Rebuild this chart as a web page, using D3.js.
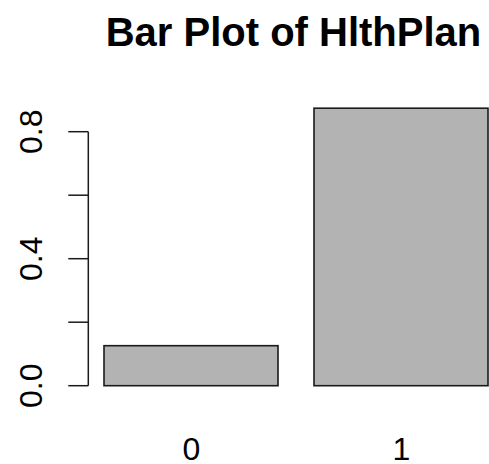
<!DOCTYPE html>
<html>
<head>
<meta charset="utf-8">
<script src="https://cdn.jsdelivr.net/npm/d3@7"></script>
<style>
  html, body { margin: 0; padding: 0; background: #fff; }
  svg { display: block; }
  text { font-family: "Liberation Sans", Arial, Helvetica, sans-serif; fill: #000; }
</style>
</head>
<body>
<svg id="chart" width="489" height="464"></svg>
<script>
// Proportions of HlthPlan
const categories = ["0", "1"];
const values = [0.126, 0.874];
const tickValues = [0, 0.2, 0.4, 0.6, 0.8];
const tickLabels = ["0.0", "", "0.4", "", "0.8"];
const title = "Bar Plot of HlthPlan";

const svg = d3.select("#chart");

// barplot units: width 1, space 0.2
const barWidth = 1, space = 0.2;
const x = d3.scaleLinear().domain([0.2, 2.4]).range([104, 489]);
const y = d3.scaleLinear().domain([0, 0.8]).range([385.7, 131.7]);

const bars = categories.map((c, i) => ({
  cat: c,
  value: values[i],
  left: space + i * (barWidth + space)
}));

svg.append("g").selectAll("rect")
  .data(bars)
  .join("rect")
  .attr("x", d => x(d.left))
  .attr("y", d => y(d.value))
  .attr("width", d => x(d.left + barWidth) - x(d.left) - 1)
  .attr("height", d => y(0) - y(d.value))
  .attr("fill", "#b3b3b3")
  .attr("stroke", "#1a1a1a")
  .attr("stroke-width", 1.6);

// category labels
svg.append("g").selectAll("text")
  .data(bars)
  .join("text")
  .attr("x", d => x(d.left + barWidth / 2))
  .attr("y", 459.5)
  .attr("text-anchor", "middle")
  .style("font-size", "32px")
  .text(d => d.cat);

// y axis
const axisX = 88.3;
const yAxis = svg.append("g").attr("stroke", "#1a1a1a").attr("stroke-width", 1.5);
yAxis.append("line")
  .attr("x1", axisX).attr("x2", axisX)
  .attr("y1", y(tickValues[0])).attr("y2", y(tickValues[tickValues.length - 1]));
yAxis.selectAll("line.tick")
  .data(tickValues)
  .join("line")
  .attr("class", "tick")
  .attr("x1", axisX - 20).attr("x2", axisX)
  .attr("y1", d => y(d)).attr("y2", d => y(d));

svg.append("g").selectAll("text")
  .data(tickValues.map((v, i) => ({ v, label: tickLabels[i] })).filter(d => d.label))
  .join("text")
  .attr("transform", d => `translate(42,${y(d.v)}) rotate(-90)`)
  .attr("text-anchor", "middle")
  .style("font-size", "32px")
  .text(d => d.label);

// title
svg.append("text")
  .attr("x", 293.5)
  .attr("y", 46)
  .attr("text-anchor", "middle")
  .style("font-size", "40px")
  .style("font-weight", "bold")
  .text(title);
</script>
</body>
</html>
